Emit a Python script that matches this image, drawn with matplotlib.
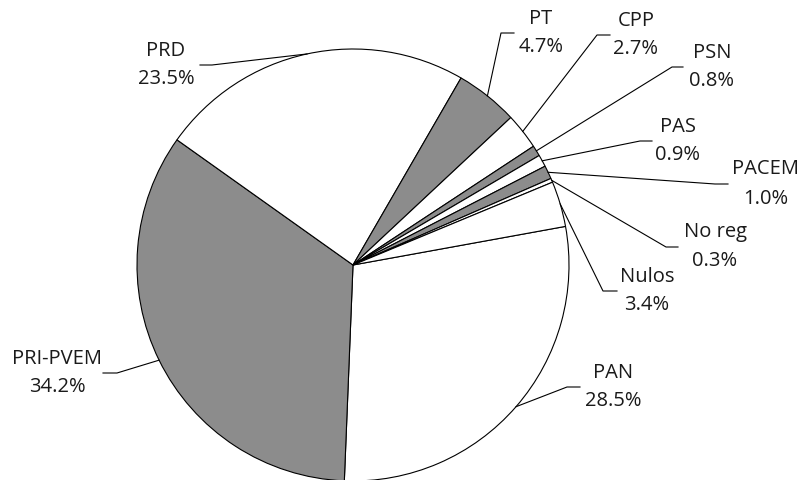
import matplotlib
matplotlib.use('Agg')
import matplotlib.pyplot as plt
import numpy as np

# data (clockwise from the right-hand side)
parties = ['PAN', 'PRI-PVEM', 'PRD', 'PT', 'CPP', 'PSN', 'PAS', 'PACEM', 'No reg', 'Nulos']
shares = [28.5, 34.2, 23.5, 4.7, 2.7, 0.8, 0.9, 1.0, 0.3, 3.4]
fills = ['white', '#8c8c8c', 'white', '#8c8c8c', 'white', '#8c8c8c',
         'white', '#8c8c8c', 'white', 'white']

W, H = 801, 480
plt.rcParams['font.family'] = ['Open Sans', 'DejaVu Sans']

# label layout in pixels from top-left: text centre, elbow x, horizontal end x
layout = {
    'PAN':      (613, 387, 567, 580),
    'PRI-PVEM': (57, 373, 117, 103),
    'PRD':      (166, 65, 212, 200),
    'PT':       (541, 33, 501, 514),
    'CPP':      (636, 35, 597, 610),
    'PSN':      (712, 67, 672, 683),
    'PAS':      (678, 141, 640, 652),
    'PACEM':    (766, 184, 715, 728),
    'No reg':   (715, 247, 666, 678),
    'Nulos':    (647, 291, 603, 617),
}

fig = plt.figure(figsize=(W / 100, H / 100), dpi=100)
ax = fig.add_axes([0, 0, 1, 1])

cx, cy, r = 353, H - 265, 216
wedges, _ = ax.pie(shares, colors=fills, startangle=10.3, counterclock=False,
                   center=(cx, cy), radius=r,
                   wedgeprops=dict(edgecolor='black', linewidth=0.8))

for w, name, val in zip(wedges, parties, shares):
    tx, ty, ex, hx = layout[name]
    ang = np.deg2rad((w.theta1 + w.theta2) / 2)
    px, py = cx + r * np.cos(ang), cy + r * np.sin(ang)
    ax.plot([px, ex, hx], [py, H - ty, H - ty], color='black', lw=0.8)
    ax.text(tx, H - ty + 14.5, name, ha='center', va='center', fontsize=14.5, color='#1a1a1a')
    ax.text(tx, H - ty - 14.5, f'{val:.1f}%', ha='center', va='center', fontsize=14.5, color='#1a1a1a')

ax.set_xlim(0, W)
ax.set_ylim(0, H)
ax.set_aspect('equal')
ax.axis('off')

fig.savefig('out.png', dpi=100)
